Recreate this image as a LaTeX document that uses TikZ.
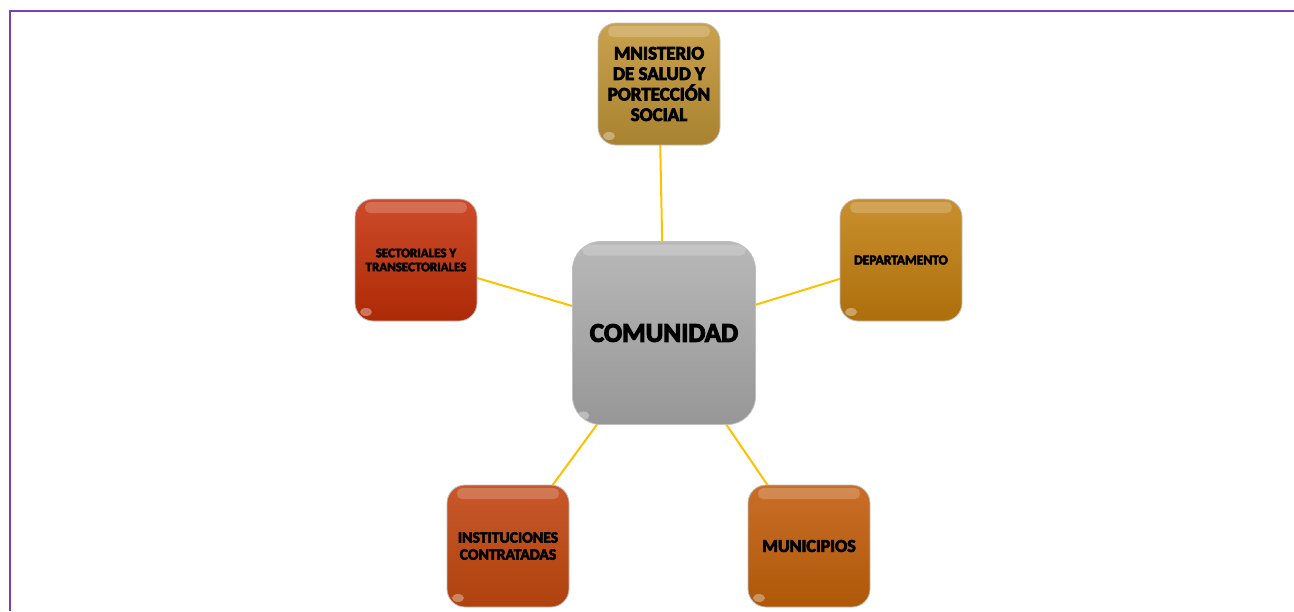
\documentclass[tikz,border=0pt]{standalone}
\usepackage{fontspec}
\setmainfont{Carlito}[BoldFeatures={FakeBold=4}]
\usepackage{xcolor}
\usepackage{tikz}
\usetikzlibrary{positioning,backgrounds}

\definecolor{frame}{HTML}{7B3FB2}
\definecolor{link}{HTML}{FFC000}
\definecolor{grayTop}{HTML}{B8B8B8}
\definecolor{grayBot}{HTML}{979797}
\definecolor{goldTop}{HTML}{CAA24E}
\definecolor{goldBot}{HTML}{A98230}
\definecolor{redTop}{HTML}{CD4B2A}
\definecolor{redBot}{HTML}{AE2A06}
\definecolor{ochreTop}{HTML}{C98F2E}
\definecolor{ochreBot}{HTML}{AD6F0C}
\definecolor{rustTop}{HTML}{C8582A}
\definecolor{rustBot}{HTML}{AF420D}
\definecolor{copperTop}{HTML}{C96E28}
\definecolor{copperBot}{HTML}{AE5808}

\begin{document}
\begin{tikzpicture}[
        x=1pt, y=-1pt,
        box/.style={rectangle, rounded corners=18, minimum width=122, minimum height=122,
            align=center, draw=white!75!black, line width=0.8,
            path picture={
                \fill[white, opacity=0.2, rounded corners=5]
                    ([xshift=10, yshift=-3]path picture bounding box.north west) rectangle
                    ([xshift=-10, yshift=-14]path picture bounding box.north east);
                \fill[white, opacity=0.35]
                    ([xshift=11, yshift=9]path picture bounding box.south west) ellipse [x radius=6, y radius=4];
            }},
        hub/.style={box, rounded corners=28, minimum width=183, minimum height=183},
        link/.style={line width=2, draw=link}
    ]
        \useasboundingbox (0,0) rectangle (1294,611);
        \draw[frame, line width=2] (10,611) -- (10,11) -- (1294,11);

        % center
        \node[hub, top color=grayTop, bottom color=grayBot,
            font=\bfseries\fontsize{27}{30}\selectfont] (comunidad) at (664,333) {COMUNIDAD};

        % around
        \node[box, top color=goldTop, bottom color=goldBot,
            font=\bfseries\fontsize{19}{20.5}\selectfont] (ministerio) at (659,84)
            {MNISTERIO\\DE SALUD Y\\PORTECCIÓN\\SOCIAL};
        \node[box, top color=redTop, bottom color=redBot,
            font=\bfseries\fontsize{13}{14}\selectfont] (sectoriales) at (416,260)
            {SECTORIALES Y\\TRANSECTORIALES};
        \node[box, top color=ochreTop, bottom color=ochreBot,
            font=\bfseries\fontsize{13.5}{14}\selectfont] (departamento) at (901,260) {DEPARTAMENTO};
        \node[box, top color=rustTop, bottom color=rustBot,
            font=\bfseries\fontsize{15.7}{17}\selectfont] (instituciones) at (508,546)
            {INSTITUCIONES\\CONTRATADAS};
        \node[box, top color=copperTop, bottom color=copperBot,
            font=\bfseries\fontsize{18}{20}\selectfont] (municipios) at (809,546) {MUNICIPIOS};

        % links
        \begin{scope}[on background layer]
            \draw[link] (comunidad.center) -- (ministerio.center);
            \draw[link] (comunidad.center) -- (sectoriales.center);
            \draw[link] (comunidad.center) -- (departamento.center);
            \draw[link] (comunidad.center) -- (instituciones.center);
            \draw[link] (comunidad.center) -- (municipios.center);
        \end{scope}
    \end{tikzpicture}
\end{document}
